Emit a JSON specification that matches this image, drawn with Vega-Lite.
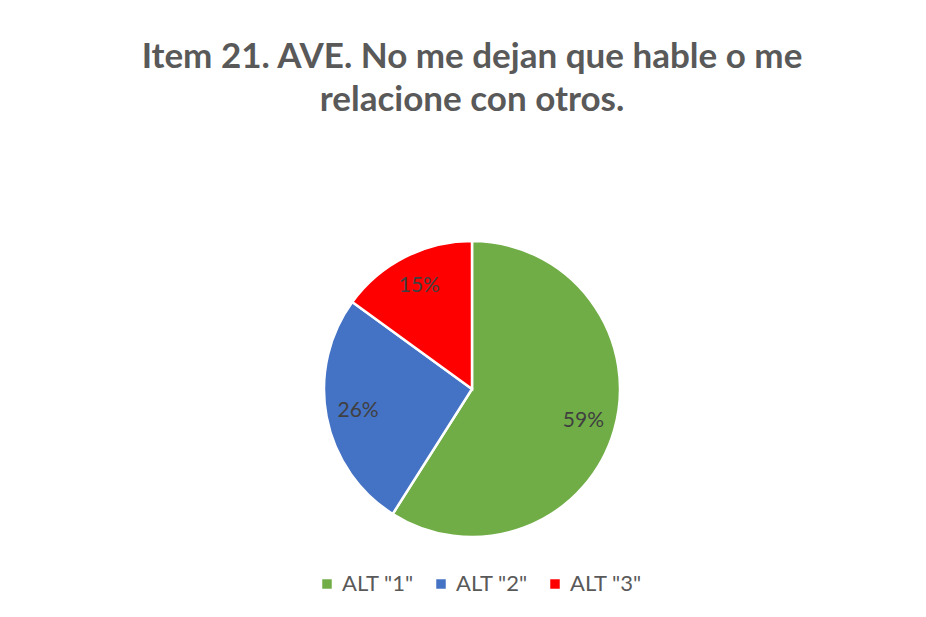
{
  "$schema": "https://vega.github.io/schema/vega-lite/v6.json",
  "width": 296,
  "height": 296,
  "autosize": {"type": "none"},
  "padding": {"left": 324, "top": 241, "right": 306, "bottom": 80},
  "background": "white",
  "title": {
    "text": ["Item 21. AVE. No me dejan que hable o me", "relacione con otros."],
    "anchor": "middle",
    "frame": "group",
    "font": "Lato",
    "fontSize": 35,
    "fontWeight": "bold",
    "color": "#595959",
    "lineHeight": 43,
    "offset": 118
  },
  "data": {
    "values": [
      {"alt": "ALT \"1\"", "pct": 59, "label": "59%"},
      {"alt": "ALT \"2\"", "pct": 26, "label": "26%"},
      {"alt": "ALT \"3\"", "pct": 15, "label": "15%"}
    ]
  },
  "encoding": {
    "theta": {"field": "pct", "type": "quantitative", "stack": true},
    "color": {
      "field": "alt",
      "type": "nominal",
      "scale": {"domain": ["ALT \"1\"", "ALT \"2\"", "ALT \"3\""], "range": ["#70AD47", "#4472C4", "#FF0000"]},
      "legend": {
        "orient": "none",
        "legendX": -8,
        "legendY": 332,
        "direction": "horizontal",
        "title": null,
        "symbolType": "square",
        "symbolSize": 90,
        "symbolStrokeWidth": 0,
        "labelFont": "Lato",
        "labelFontSize": 22,
        "labelColor": "#595959",
        "columnPadding": 16,
        "labelOffset": 4
      }
    },
    "order": {"field": "alt", "type": "nominal"}
  },
  "layer": [
    {
      "mark": {"type": "arc", "outerRadius": 148, "stroke": "white", "strokeWidth": 2.5}
    },
    {
      "mark": {"type": "text", "radius": 116, "font": "Lato", "fontSize": 21, "color": "#404040"},
      "encoding": {
        "text": {"field": "label"},
        "color": {"value": "#404040"}
      }
    }
  ],
  "config": {"view": {"stroke": null}}
}
